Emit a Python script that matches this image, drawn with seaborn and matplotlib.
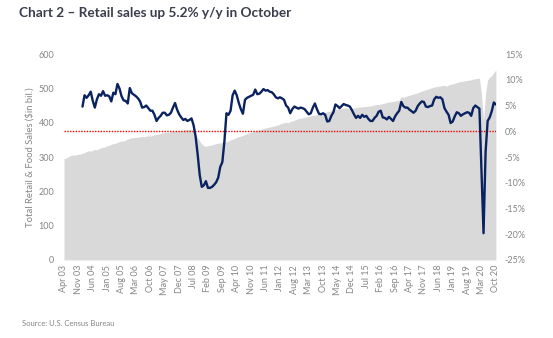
import numpy as np
import pandas as pd
import matplotlib
matplotlib.use("Agg")
import matplotlib.pyplot as plt
import seaborn as sns

sns.set_style("white")
plt.rcParams["font.family"] = ["Lato", "DejaVu Sans"]

# Total retail & food sales, $ bil., monthly from Apr 2003 to Oct 2020
sales_2003 = [295, 297, 300, 304, 306, 305, 307, 308, 309]
sales_2004 = [311, 313, 316, 318, 317, 320, 322, 321, 324, 327, 328, 330]
sales_2005 = [333, 334, 337, 339, 340, 343, 345, 347, 346, 350, 352, 355]
sales_2006 = [356, 357, 357, 358, 359, 360, 359, 361, 362, 361, 363, 365]
sales_2007 = [366, 367, 369, 370, 371, 372, 372, 374, 375, 376, 377, 378]
sales_2008 = [378, 379, 380, 380, 381, 380, 374, 365, 356, 346, 338, 333]
sales_2009 = [331, 333, 334, 335, 337, 339, 340, 341, 343, 345, 344, 347]
sales_2010 = [350, 352, 354, 358, 359, 361, 363, 366, 368, 370, 372, 374]
sales_2011 = [376, 378, 380, 381, 383, 385, 386, 387, 389, 390, 392, 393]
sales_2012 = [396, 398, 400, 401, 400, 403, 405, 407, 410, 412, 413, 414]
sales_2013 = [416, 417, 418, 420, 421, 422, 424, 425, 427, 428, 430, 432]
sales_2014 = [433, 435, 437, 439, 440, 441, 442, 443, 443, 442, 441, 442]
sales_2015 = [443, 444, 445, 446, 446, 447, 447, 448, 449, 450, 452, 453]
sales_2016 = [453, 454, 456, 457, 459, 460, 461, 462, 463, 465, 466, 476]
sales_2017 = [474, 476, 478, 480, 482, 484, 485, 487, 490, 492, 494, 496]
sales_2018 = [498, 500, 502, 504, 505, 506, 507, 508, 509, 506, 510, 512]
sales_2019 = [513, 515, 517, 519, 520, 521, 522, 523, 524, 525, 527, 528]
sales_2020 = [529, 530, 483, 405, 487, 525, 533, 537, 547, 553]

# Year-over-year change in retail sales, %, from Jan 2004
yoy_2004 = [4.8, 7.0, 6.5, 7.0, 7.7, 5.9, 4.6, 6.2, 7.2, 6.9, 7.8, 6.9]
yoy_2005 = [7.0, 6.8, 5.8, 7.5, 7.2, 9.2, 8.3, 6.8, 6.0, 5.9, 5.4, 8.4]
yoy_2006 = [7.4, 7.1, 6.8, 6.4, 5.8, 4.6, 4.7, 5.0, 4.5, 4.0, 4.0, 3.2]
yoy_2007 = [2.0, 2.6, 3.0, 3.6, 3.6, 3.1, 3.2, 3.6, 4.6, 5.5, 4.2, 3.3]
yoy_2008 = [2.7, 2.2, 2.4, 2.0, 2.2, 2.5, 1.2, -1.0, -4.5, -8.5, -10.8, -10.5]
yoy_2009 = [-9.7, -11.0, -11.0, -10.8, -10.4, -9.9, -9.0, -6.9, -6.0, -2.0, 3.5, 3.2]
yoy_2010 = [4.0, 7.0, 7.9, 7.0, 5.5, 4.3, 3.4, 6.1, 6.5, 6.7, 6.9, 7.1]
yoy_2011 = [8.1, 7.2, 7.3, 7.7, 8.2, 7.9, 8.0, 7.7, 7.6, 7.2, 6.6, 6.4]
yoy_2012 = [6.6, 6.4, 6.1, 5.0, 4.6, 3.5, 4.3, 4.8, 4.6, 4.4, 4.6, 4.5]
yoy_2013 = [4.3, 3.8, 3.3, 3.5, 4.6, 5.4, 4.3, 3.4, 3.3, 3.5, 3.2, 1.9]
yoy_2014 = [2.0, 3.0, 3.7, 5.2, 4.9, 4.5, 4.9, 5.3, 5.1, 5.0, 4.8, 4.1]
yoy_2015 = [3.3, 2.6, 3.0, 2.6, 3.2, 2.8, 3.0, 2.4, 2.0, 2.0, 2.6, 3.0]
yoy_2016 = [3.8, 4.0, 2.7, 2.6, 2.3, 2.8, 2.4, 2.0, 2.9, 3.5, 4.0, 5.7]
yoy_2017 = [4.9, 4.6, 4.6, 4.2, 3.9, 3.6, 4.0, 4.9, 5.4, 5.8, 5.7, 4.8]
yoy_2018 = [4.7, 4.9, 5.0, 6.2, 6.7, 6.5, 6.6, 6.2, 4.5, 3.8, 3.2, 1.6]
yoy_2019 = [1.9, 2.9, 3.7, 3.5, 3.0, 3.3, 3.5, 3.7, 3.6, 3.0, 4.5, 5.0]
yoy_2020 = [4.7, 4.4, -8.0, -19.8, -4.0, 2.0, 2.7, 3.9, 5.6, 5.2]

tick_labels = ["Apr 03", "Nov 03", "Jun 04", "Jan 05", "Aug 05", "Mar 06", "Oct 06",
               "May 07", "Dec 07", "Jul 08", "Feb 09", "Sep 09", "Apr 10", "Nov 10",
               "Jun 11", "Jan 12", "Aug 12", "Mar 13", "Oct 13", "May 14", "Dec 14",
               "Jul 15", "Feb 16", "Sep 16", "Apr 17", "Nov 17", "Jun 18", "Jan 19",
               "Aug 19", "Mar 20", "Oct 20"]

sales = (sales_2003 + sales_2004 + sales_2005 + sales_2006 + sales_2007 + sales_2008
         + sales_2009 + sales_2010 + sales_2011 + sales_2012 + sales_2013 + sales_2014
         + sales_2015 + sales_2016 + sales_2017 + sales_2018 + sales_2019 + sales_2020)
yoy = ([np.nan] * len(sales_2003) + yoy_2004 + yoy_2005 + yoy_2006 + yoy_2007 + yoy_2008
       + yoy_2009 + yoy_2010 + yoy_2011 + yoy_2012 + yoy_2013 + yoy_2014 + yoy_2015
       + yoy_2016 + yoy_2017 + yoy_2018 + yoy_2019 + yoy_2020)

df = pd.DataFrame({"month": np.arange(len(sales)), "sales": sales, "yoy": yoy})

GREY_TXT = "#858585"
fig = plt.figure(figsize=(5.53, 3.38), dpi=100)
ax = fig.add_axes([0.1157, 0.231, 0.781, 0.609])

# Sales level as a grey area on the left axis
ax.fill_between(df["month"], df["sales"], 0, color="#d9d9d9", lw=0, zorder=1)
ax.set_xlim(0, len(sales) - 1)
ax.set_ylim(0, 600)
ax.set_yticks(range(0, 601, 100))
ax.set_xticks(df["month"][::7])
ax.set_xticklabels(tick_labels, rotation=90)
ax.tick_params(axis="x", length=0, pad=3.5, labelsize=6.5, labelcolor=GREY_TXT)
ax.tick_params(axis="y", length=0, pad=7, labelsize=6.5, labelcolor=GREY_TXT)
ax.set_xlabel("")
ax.set_ylabel("Total Retail & Food Sales ($in bil.)", fontsize=6.8, color=GREY_TXT)
ax.yaxis.set_label_coords(-0.067, 0.5)
for s in ax.spines.values():
    s.set_visible(False)

# Year-over-year growth on the right axis
ax2 = ax.twinx()
ax2.axhline(0, color="#ff0000", ls=(0, (1, 1)), lw=1.0, zorder=1)
sns.lineplot(data=df, x="month", y="yoy", ax=ax2, color="#0b2260", lw=1.7, zorder=3)
ax2.set_ylim(-25, 15)
ax2.set_yticks(range(-25, 16, 5))
ax2.yaxis.set_major_formatter(lambda v, p: f"{v:.0f}%")
ax2.tick_params(axis="y", length=0, pad=6.5, labelsize=6.5, labelcolor=GREY_TXT)
ax2.set_ylabel("")
ax2.set_xlabel("")
for s in ax2.spines.values():
    s.set_visible(False)

fig.text(0.034, 0.961, "Chart 2 \u2013 Retail sales up 5.2% y/y in October",
         fontsize=9.8, fontweight="bold", color="#3b3d4c", va="center", ha="left")
fig.text(0.039, 0.044, "Source: U.S. Census Bureau", fontsize=5.5, color=GREY_TXT,
         va="center", ha="left")

fig.savefig("out.png", dpi=100)
